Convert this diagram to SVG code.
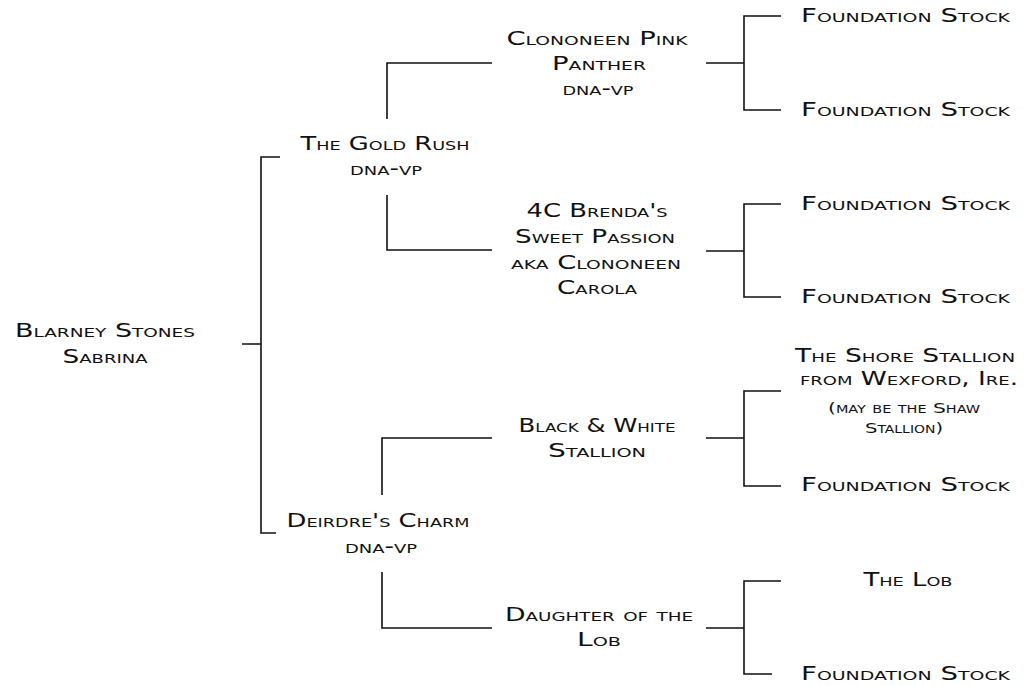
<svg xmlns="http://www.w3.org/2000/svg" width="1024" height="686" viewBox="0 0 1024 686">
<style>
text{font-family:"DejaVu Sans","Liberation Sans",Arial,sans-serif;font-size:19px;font-variant:small-caps;fill:#111;text-anchor:middle}
.s{font-size:14px}
#connectors path{fill:none;stroke:#111;stroke-width:1.6}
</style>
<rect width="1024" height="686" fill="#fff"/>
<g id="connectors">
<path d="M242 344H261M280 157H261V533H276"/>
<path d="M387 119V63H492M387 195V250H492"/>
<path d="M382 495V438H492M382 572V628H492"/>
<path d="M706 63H744M781 16H744V110H781"/>
<path d="M706 251H744M781 204H744V297H781"/>
<path d="M706 438H744M781 391H744V486H781"/>
<path d="M706 628H744M781 581H744V674H772"/>
</g>
<g id="n-root"><text x="105" y="337" textLength="180" lengthAdjust="spacingAndGlyphs">Blarney Stones</text><text x="105" y="363" textLength="85" lengthAdjust="spacingAndGlyphs">Sabrina</text></g>
<g id="n-goldrush"><text x="385" y="150" textLength="169" lengthAdjust="spacingAndGlyphs">The Gold Rush</text><text x="386" y="175" textLength="72" lengthAdjust="spacingAndGlyphs">dna-vp</text></g>
<g id="n-deirdre"><text x="378" y="527" textLength="183" lengthAdjust="spacingAndGlyphs">Deirdre's Charm</text><text x="381" y="553" textLength="72" lengthAdjust="spacingAndGlyphs">dna-vp</text></g>
<g id="n-pinkpanther"><text x="597" y="45" textLength="181" lengthAdjust="spacingAndGlyphs">Clononeen Pink</text><text x="599" y="70" textLength="94" lengthAdjust="spacingAndGlyphs">Panther</text><text x="598" y="95" textLength="71" lengthAdjust="spacingAndGlyphs">dna-vp</text></g>
<g id="n-brenda"><text x="597" y="217" textLength="141" lengthAdjust="spacingAndGlyphs">4C Brenda's</text><text x="595" y="243" textLength="160" lengthAdjust="spacingAndGlyphs">Sweet Passion</text><text x="596" y="269" textLength="170" lengthAdjust="spacingAndGlyphs">aka Clononeen</text><text x="597" y="294" textLength="80" lengthAdjust="spacingAndGlyphs">Carola</text></g>
<g id="n-blackwhite"><text x="597" y="432" textLength="157" lengthAdjust="spacingAndGlyphs">Black &amp; White</text><text x="597" y="457" textLength="98" lengthAdjust="spacingAndGlyphs">Stallion</text></g>
<g id="n-daughter"><text x="599" y="621" textLength="188" lengthAdjust="spacingAndGlyphs">Daughter of the</text><text x="599" y="646" textLength="44" lengthAdjust="spacingAndGlyphs">Lob</text></g>
<g id="n-fs1"><text x="905.5" y="22" textLength="209" lengthAdjust="spacingAndGlyphs">Foundation Stock</text></g>
<g id="n-fs2"><text x="905.5" y="116" textLength="209" lengthAdjust="spacingAndGlyphs">Foundation Stock</text></g>
<g id="n-fs3"><text x="905.5" y="210" textLength="209" lengthAdjust="spacingAndGlyphs">Foundation Stock</text></g>
<g id="n-fs4"><text x="905.5" y="303" textLength="209" lengthAdjust="spacingAndGlyphs">Foundation Stock</text></g>
<g id="n-shore"><text x="905" y="362" textLength="220" lengthAdjust="spacingAndGlyphs">The Shore Stallion</text><text x="909" y="385" textLength="218" lengthAdjust="spacingAndGlyphs">from Wexford, Ire.</text><text class="s" x="904" y="413" textLength="152" lengthAdjust="spacingAndGlyphs">(may be the Shaw</text><text class="s" x="904" y="433" textLength="78" lengthAdjust="spacingAndGlyphs">Stallion)</text></g>
<g id="n-fs5"><text x="905.5" y="491" textLength="209" lengthAdjust="spacingAndGlyphs">Foundation Stock</text></g>
<g id="n-thelob"><text x="908" y="586" textLength="89" lengthAdjust="spacingAndGlyphs">The Lob</text></g>
<g id="n-fs6"><text x="905.5" y="680" textLength="209" lengthAdjust="spacingAndGlyphs">Foundation Stock</text></g>
</svg>
